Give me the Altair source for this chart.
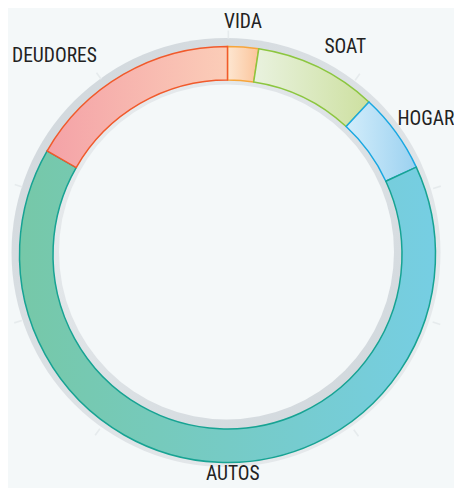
import altair as alt
import pandas as pd
import math

# ---- data ----
categories = ["VIDA", "SOAT", "HOGAR", "AUTOS", "DEUDORES"]
values = [2.4, 9.5, 6.2, 65.2, 16.7]
order = [0, 1, 2, 3, 4]
tick_values = [0, 10, 20, 30, 40, 50, 60, 70, 80, 90]

# ---- styles ----
grad_start = {"VIDA": "#fde6d1", "SOAT": "#e9f2df", "HOGAR": "#d3edfb", "AUTOS": "#76c8a8", "DEUDORES": "#f4a2a7"}
grad_end = {"VIDA": "#fbc49a", "SOAT": "#cde0a0", "HOGAR": "#9bd1f0", "AUTOS": "#76cee3", "DEUDORES": "#fbcdb8"}
stroke_col = {"VIDA": "#f7a53a", "SOAT": "#8cc63f", "HOGAR": "#1aa8e2", "AUTOS": "#17a393", "DEUDORES": "#f15a2b"}
label_style = {
    "VIDA": dict(align="center", dx=-2, dy=-1, radius=232),
    "SOAT": dict(align="left", dx=-3, dy=0, radius=230),
    "HOGAR": dict(align="left", dx=-12, dy=-3, radius=225),
    "AUTOS": dict(align="center", dx=15, dy=0, radius=220),
    "DEUDORES": dict(align="right", dx=-16, dy=0, radius=229),
}

BG = "#f4f8f9"
CX, CY = 219.5, 246.5
R_IN, R_OUT = 174.5, 208
FONT = "Roboto Condensed, Roboto, sans-serif"
TWO_PI = 2 * math.pi

df = pd.DataFrame({"cat": categories, "value": values, "order": order})
ticks_df = pd.DataFrame({"t": tick_values})
one = pd.DataFrame({"a": [0]})

theta_scale = alt.Scale(domain=[0, 100])


def grad(c0, c1, x2=1, y2=0):
    return alt.Gradient(
        gradient="linear",
        stops=[alt.GradientStop(color=c0, offset=0), alt.GradientStop(color=c1, offset=1)],
        x1=0, y1=0, x2=x2, y2=y2,
    )


pos = dict(x=alt.value(CX), y=alt.value(CY))

# outer shadowed track (offset up-left)
outer_track = alt.Chart(one).mark_arc(
    theta=0, theta2=TWO_PI, radius=214.5, radius2=0,
    fill=grad("#cfd6db", "#eaedef", 1, 1),
).encode(x=alt.value(CX - 1.5), y=alt.value(CY - 2))

# inner band
inner_band = alt.Chart(one).mark_arc(
    theta=0, theta2=TWO_PI, radius=R_IN, radius2=0,
    fill=grad("#eaedef", "#cfd6db", 1, 1),
).encode(**pos)

# hole (offset up-left)
hole = alt.Chart(one).mark_arc(
    theta=0, theta2=TWO_PI, radius=167.5, radius2=0, fill=BG,
).encode(x=alt.value(CX - 1), y=alt.value(CY - 2.5))

base = alt.Chart(df).transform_stack(
    stack="value", groupby=[], as_=["s0", "s1"], sort=[alt.SortField("order")]
)

segs = []
labels = []
for c in categories:
    segs.append(
        base.transform_filter(alt.datum.cat == c).mark_arc(
            radius=R_OUT, radius2=R_IN,
            fill=grad(grad_start[c], grad_end[c]),
            stroke=stroke_col[c], strokeWidth=1.5,
        ).encode(
            theta=alt.Theta("s0:Q", scale=theta_scale),
            theta2="s1:Q",
            **pos,
        )
    )
    st = label_style[c]
    labels.append(
        base.transform_filter(alt.datum.cat == c)
        .transform_calculate(mid="(datum.s0 + datum.s1) / 2")
        .mark_text(
            radius=st["radius"], align=st["align"], baseline="middle",
            dx=st["dx"], dy=st["dy"], font=FONT, fontSize=19.5, color="#222222",
        ).encode(
            theta=alt.Theta("mid:Q", scale=theta_scale),
            text="cat:N",
            **pos,
        )
    )

ticks = alt.Chart(ticks_df).transform_calculate(t2="datum.t + 0.12").mark_arc(
    radius=224, radius2=216, fill="#e6ebed",
).encode(
    theta=alt.Theta("t:Q", scale=theta_scale),
    theta2="t2:Q",
    **pos,
)

chart = alt.layer(outer_track, inner_band, hole, ticks, *segs, *labels).properties(
    width=446, height=480,
    autosize=alt.AutoSizeParams(type="none"),
    padding=0,
    background=BG,
).configure_view(stroke=None)

chart.save("out.html", embed_options={"renderer": "svg", "actions": False})
